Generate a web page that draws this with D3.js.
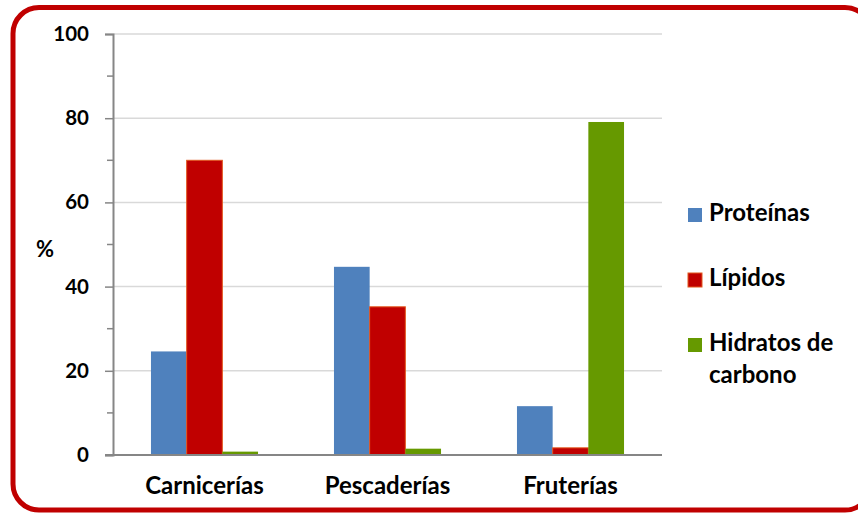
<!DOCTYPE html>
<html>
<head>
<meta charset="utf-8">
<script src="https://cdn.jsdelivr.net/npm/d3@7"></script>
<style>
  html, body { margin: 0; padding: 0; background: #fff; }
  svg { display: block; }
  text { font-family: Lato, "Noto Sans", sans-serif; font-weight: bold; fill: #000; }
</style>
</head>
<body>
<svg id="chart" width="858" height="515"></svg>
<script>
// Food composition by shop type (%)
const categories = ["Carnicerías", "Pescaderías", "Fruterías"];
const seriesNames = ["Proteínas", "Lípidos", "Hidratos de carbono"];
const proteinas = [24.6, 44.7, 11.6];
const lipidos = [70.0, 35.2, 1.7];
const hidratos = [0.8, 1.5, 79.1];
const yTicks = [0, 20, 40, 60, 80, 100];
const yMinorTicks = [10, 30, 50, 70, 90];

const seriesValues = [proteinas, lipidos, hidratos];
const fills = ["#4F81BD", "#C00000", "#669900"];
const strokes = ["none", "#E2571E", "none"];

const svg = d3.select("#chart");

// rounded red frame
svg.append("rect")
  .attr("x", 13).attr("y", 7.5)
  .attr("width", 858).attr("height", 502.5)
  .attr("rx", 26).attr("ry", 26)
  .attr("fill", "none")
  .attr("stroke", "#C00000")
  .attr("stroke-width", 5);

const plot = { left: 113, right: 662, top: 34, bottom: 455 };

const y = d3.scaleLinear().domain([0, 100]).range([plot.bottom, plot.top]);
const x0 = d3.scaleBand().domain(categories)
  .range([plot.left, plot.right])
  .paddingInner(0.415).paddingOuter(0.2075);
const x1 = d3.scaleBand().domain(d3.range(seriesNames.length))
  .range([0, x0.bandwidth()]);

// gridlines
svg.append("g")
  .selectAll("line")
  .data(yTicks.filter(t => t > 0))
  .join("line")
  .attr("x1", plot.left).attr("x2", plot.right)
  .attr("y1", d => y(d)).attr("y2", d => y(d))
  .attr("stroke", "#D9D9D9")
  .attr("stroke-width", 1.5);

// bars
const groups = svg.append("g")
  .selectAll("g")
  .data(categories)
  .join("g")
  .attr("transform", d => `translate(${x0(d)},0)`);

groups.selectAll("rect")
  .data((c, ci) => seriesValues.map((vals, si) => ({ si, v: vals[ci] })))
  .join("rect")
  .attr("x", d => x1(d.si))
  .attr("width", x1.bandwidth())
  .attr("y", d => y(d.v))
  .attr("height", d => y(0) - y(d.v))
  .attr("fill", d => fills[d.si])
  .attr("stroke", d => strokes[d.si])
  .attr("stroke-width", 1);

// y axis
const yAxis = d3.axisLeft(y).tickValues(yTicks).tickSize(8).tickPadding(16);
const yg = svg.append("g").attr("transform", `translate(${plot.left},0)`).call(yAxis);
yg.select(".domain").attr("stroke", "#868686").attr("stroke-width", 2);
yg.selectAll(".tick line").attr("stroke", "#868686").attr("stroke-width", 1.5);
yg.selectAll(".tick text").attr("font-size", 20.5).attr("font-family", "Lato, sans-serif").attr("font-weight", "bold").attr("fill", "#000");

svg.append("g")
  .selectAll("line")
  .data(yMinorTicks)
  .join("line")
  .attr("x1", plot.left - 6).attr("x2", plot.left)
  .attr("y1", d => y(d)).attr("y2", d => y(d))
  .attr("stroke", "#868686").attr("stroke-width", 1.5);

// x axis
const xAxis = d3.axisBottom(x0).tickSize(0).tickPadding(22);
const xg = svg.append("g").attr("transform", `translate(0,${plot.bottom})`).call(xAxis);
xg.select(".domain")
  .attr("d", `M${plot.left - 8},0H${plot.right}`)
  .attr("stroke", "#868686").attr("stroke-width", 2);
xg.selectAll(".tick text").attr("font-size", 24).attr("font-family", "Lato, sans-serif").attr("font-weight", "bold").attr("fill", "#000");

// axis title
svg.append("text")
  .attr("x", 45).attr("y", 257)
  .attr("text-anchor", "middle")
  .attr("font-size", 22)
  .text("%");

// legend
const legendRows = [
  { lines: ["Proteínas"], y: 221 },
  { lines: ["Lípidos"], y: 286 },
  { lines: ["Hidratos de", "carbono"], y: 351 }
];
const legend = svg.append("g");
legendRows.forEach((row, i) => {
  legend.append("rect")
    .attr("x", 688).attr("y", row.y - 13)
    .attr("width", 14).attr("height", 14)
    .attr("fill", fills[i])
    .attr("stroke", strokes[i])
    .attr("stroke-width", 1);
  const t = legend.append("text")
    .attr("x", 709).attr("y", row.y)
    .attr("font-size", 24);
  row.lines.forEach((ln, k) => {
    t.append("tspan").attr("x", 709).attr("dy", k === 0 ? 0 : 32).text(ln);
  });
});
</script>
</body>
</html>
